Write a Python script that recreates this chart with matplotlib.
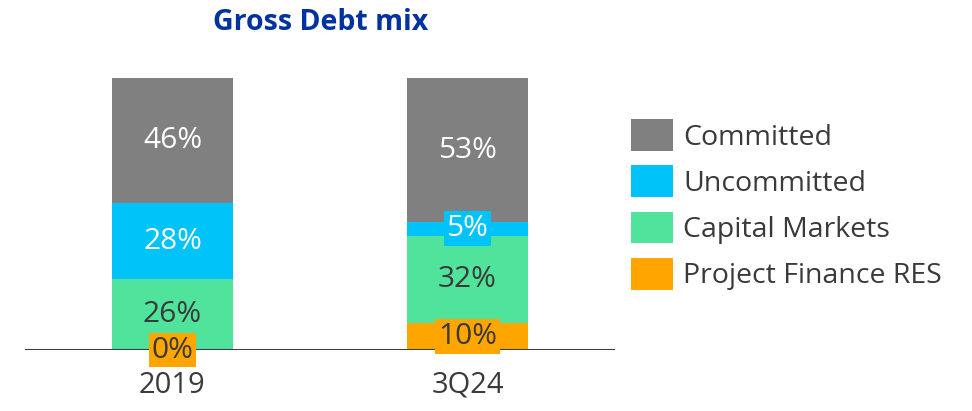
import matplotlib.pyplot as plt

plt.rcParams['font.family'] = ['Open Sans', 'DejaVu Sans']

periods = ['2019', '3Q24']
series = ['Project Finance RES', 'Capital Markets', 'Uncommitted', 'Committed']
project_finance = [0, 10]
capital_markets = [26, 32]
uncommitted = [28, 5]
committed = [46, 53]

colors = {'Committed': '#808080', 'Uncommitted': '#00C3F9',
          'Capital Markets': '#50E39B', 'Project Finance RES': '#FFA500'}
text_colors = {'Committed': 'white', 'Uncommitted': 'white',
               'Capital Markets': '#3a3a3a', 'Project Finance RES': '#3a3a3a'}

values = {'Project Finance RES': project_finance, 'Capital Markets': capital_markets,
          'Uncommitted': uncommitted, 'Committed': committed}

fig = plt.figure(figsize=(9.72, 4.11), dpi=100)
ax = fig.add_axes([25 / 972, 61 / 411, 590 / 972, 272 / 411])

x = range(len(periods))
bottom = [0, 0]
bars = {}
for name in series:
    vals = values[name]
    bars[name] = ax.bar(x, vals, width=0.407, bottom=bottom, color=colors[name], label=name)
    for i, v in enumerate(vals):
        y = bottom[i] + v / 2
        small = v < 12
        bbox = dict(boxstyle='square,pad=0.1', fc=colors[name], ec='none') if small else None
        ax.text(i, y, f'{v}%', ha='center', va='center', fontsize=21.5,
                color=text_colors[name], bbox=bbox, clip_on=False, zorder=5)
    bottom = [b + v for b, v in zip(bottom, vals)]

ax.axhline(0, color='#404040', lw=1.5, zorder=3)
ax.set_xlim(-0.5, 1.5)
ax.set_ylim(0, 100)
ax.set_xticks(list(x))
ax.set_xticklabels(periods, fontsize=21, color='#3a3a3a')
ax.tick_params(length=0, pad=15)
ax.set_yticks([])
for s in ax.spines.values():
    s.set_visible(False)

fig.text(321 / 972, 1 - 22 / 411, 'Gross Debt mix', ha='center', va='center',
         fontsize=20.5, fontweight='bold', color='#0033A0')

handles = [bars[n] for n in ['Committed', 'Uncommitted', 'Capital Markets', 'Project Finance RES']]
labels = ['Committed', 'Uncommitted', 'Capital Markets', 'Project Finance RES']
fig.legend(handles, labels, loc='upper left', bbox_to_anchor=(617 / 972, 1 - 105 / 411),
           frameon=False, fontsize=20.5, handlelength=1.47, handleheight=1.35,
           handletextpad=0.35, labelspacing=0.48, labelcolor='#3a3a3a', borderpad=0)

fig.savefig('out.png', dpi=100)
